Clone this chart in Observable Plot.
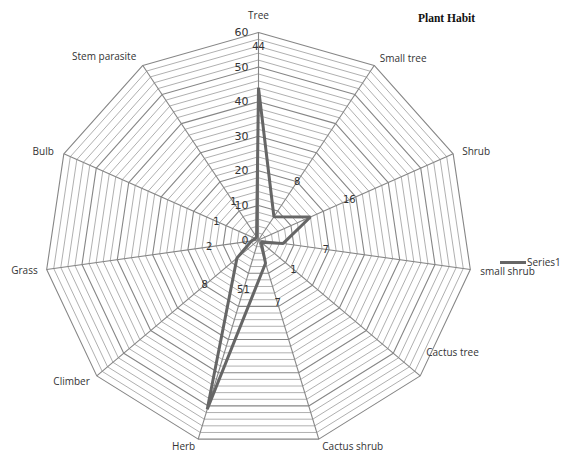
<!DOCTYPE html>
<html>
<head>
<meta charset="utf-8">
<script src="https://cdn.jsdelivr.net/npm/d3@7"></script>
<script src="https://cdn.jsdelivr.net/npm/@observablehq/plot@0.6"></script>
<style>
  html, body { margin: 0; padding: 0; background: #fff; overflow: hidden; }
  #wrap { position: relative; width: 561px; height: 452px; }
  #legend { position: absolute; left: 500px; top: 255px; font: 10px "Open Sans", sans-serif; color: #333; white-space: nowrap; display: flex; align-items: center; }
  #legend .sw { display: inline-block; width: 26px; height: 3px; background: #666; margin-right: 1px; }
</style>
</head>
<body>
<div id="wrap"><div id="legend"><span class="sw"></span><span>Series1</span></div></div>
<script>
// ---- Data ----
const categories = ["Tree", "Small tree", "Shrub", "small shrub", "Cactus tree", "Cactus shrub", "Herb", "Climber", "Grass", "Bulb", "Stem parasite"];
const values = [44, 8, 16, 7, 1, 7, 51, 8, 2, 1, 1];
const tickValues = [0, 10, 20, 30, 40, 50, 60];
const seriesName = "Series1";
const chartTitle = "Plant Habit";

// ---- Geometry helpers ----
const W = 561, H = 452;
const cx = 258, cy = 239.5;           // centre in pixels
const rMax = 60;
const sx = 214 / rMax, sy = 207.5 / rMax; // px per unit
const n = categories.length;
const ang = i => i * 2 * Math.PI / n;
const px = (i, r) => r * Math.sin(ang(i));
const py = (i, r) => r * Math.cos(ang(i));

// grid rings every 2 units
const rings = d3.range(2, rMax + 1, 2);
const ringPts = rings.flatMap(r => categories.map((c, i) => ({r, x: px(i, r), y: py(i, r), major: r % 10 === 0})));
const spokes = categories.map((c, i) => ({x1: 0, y1: 0, x2: px(i, rMax), y2: py(i, rMax)}));
const series = categories.map((c, i) => ({c, v: values[i], x: px(i, values[i]), y: py(i, values[i])}));

// data label radius (Excel style, slightly outside value)
const labelR = (c, v) => c === "Herb" ? 15 : v + 12;
const dataLabels = categories.map((c, i) => ({t: String(values[i]), x: px(i, labelR(c, values[i])), y: py(i, labelR(c, values[i]))}));

// category label placement (style)
const place = {
  "Tree": ["middle", 0, -16.5],
  "Small tree": ["start", 5.5, -7],
  "Shrub": ["start", 9, -2],
  "small shrub": ["start", 10, 2.5],
  "Cactus tree": ["start", 6, -23],
  "Cactus shrub": ["start", 3.5, 7.5],
  "Herb": ["end", -3, 7.5],
  "Climber": ["end", -7, 6],
  "Grass": ["end", -9, 1.5],
  "Bulb": ["end", -10, -2.5],
  "Stem parasite": ["end", -6.5, -9]
};
const catMarks = categories.map((c, i) => {
  const [anchor, dx, dy] = place[c];
  return Plot.text([{c, x: px(i, rMax), y: py(i, rMax)}], {
    x: "x", y: "y", text: "c", textAnchor: anchor, dx, dy, lineAnchor: "middle",
    fontSize: 10, fontFamily: "Open Sans", fill: "#333"
  });
});

const chart = Plot.plot({
  width: W, height: H,
  margin: 0,
  x: {domain: [-cx / sx, (W - cx) / sx], range: [0, W], axis: null},
  y: {domain: [-(H - cy) / sy, cy / sy], range: [H, 0], axis: null},
  style: {background: "#fff", overflow: "visible"},
  marks: [
    Plot.line(ringPts.filter(d => !d.major), {x: "x", y: "y", z: "r", curve: "linear-closed", stroke: "#b0b0b0", strokeWidth: 1}),
    Plot.line(ringPts.filter(d => d.major), {x: "x", y: "y", z: "r", curve: "linear-closed", stroke: "#868686", strokeWidth: 1.1}),
    Plot.link(spokes, {x1: "x1", y1: "y1", x2: "x2", y2: "y2", stroke: "#868686", strokeWidth: 1.1}),
    Plot.line(series, {x: "x", y: "y", curve: "linear-closed", stroke: "#666", strokeWidth: 3, strokeLinejoin: "miter"}),
    Plot.text(tickValues, {x: 0, y: d => d, text: d => String(d), textAnchor: "end", dx: -10, lineAnchor: "middle", fontSize: 11, fontFamily: "DejaVu Sans", fill: "#333"}),
    Plot.text(dataLabels, {x: "x", y: "y", text: "t", textAnchor: "middle", lineAnchor: "middle", fontSize: 10, fontFamily: "DejaVu Sans", fill: "#333"}),
    ...catMarks,
    Plot.text([chartTitle], {frameAnchor: "top-left", dx: 446, dy: 18, text: d => d, textAnchor: "middle", lineAnchor: "middle", fontSize: 11.5, fontWeight: "bold", fontFamily: "Liberation Serif", fill: "#111"})
  ]
});
document.getElementById("wrap").prepend(chart);
document.querySelector("#legend span:last-child").textContent = seriesName;
</script>
</body>
</html>
